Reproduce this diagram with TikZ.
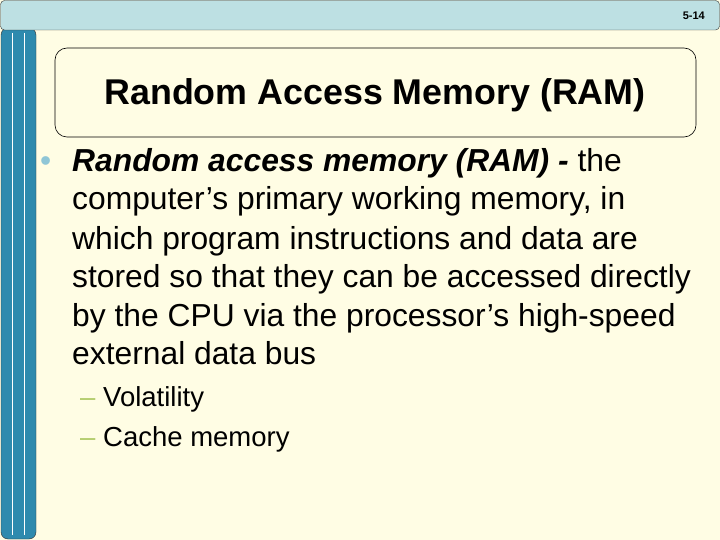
\documentclass[tikz,border=0pt]{standalone}
\usepackage{fontspec}
\setmainfont{Liberation Sans}
\definecolor{cream}{HTML}{FFFDE4}
\definecolor{topbar}{HTML}{BDE0E3}
\definecolor{sidebar}{HTML}{2E8AAE}
\definecolor{dashgreen}{HTML}{B3CC6A}
\definecolor{bulletblue}{HTML}{8FC6D6}
\begin{document}
\begin{tikzpicture}[x=1pt,y=-1pt,
  body/.style={anchor=base west,inner sep=0pt,font=\fontsize{31.8}{36}\selectfont},
  sub/.style={anchor=base west,inner sep=0pt,font=\fontsize{27.5}{32}\selectfont}]
\useasboundingbox (0,0) rectangle (720,540);
\fill[cream] (0,0) rectangle (720,540);
\draw[fill=sidebar,draw=black!80,rounded corners=7pt] (1,28) rectangle (36,539);
\draw[white,line width=0.8pt] (12,33) -- (12,535) (24,33) -- (24,535);
\draw[fill=topbar,draw=black!80,rounded corners=4pt] (0.5,0.5) rectangle (719.5,30);
\node[anchor=east,inner sep=0pt,font=\fontsize{11}{12}\selectfont\bfseries] (pg) at (705,16) {5-14};
\draw[rounded corners=12pt,line width=0.6pt] (55,48) rectangle (696,137);
\node[inner sep=0pt,font=\fontsize{35.8}{40}\selectfont\bfseries] (title) at (375,95) {Random Access Memory (RAM)};
\node[body,text=bulletblue] (b) at (40,172) {•};
\node[body] (l1) at (72,172) {\textbf{\textit{Random access memory (RAM) -}} the};
\node[body] (l2) at (72,210) {computer’s primary working memory, in};
\node[body] (l3) at (72,249) {which program instructions and data are};
\node[body] (l4) at (72,287) {stored so that they can be accessed directly};
\node[body] (l5) at (72,326) {by the CPU via the processor’s high-speed};
\node[body] (l6) at (72,364) {external data bus};
\node[sub,text=dashgreen] (d1) at (80,406) {–};
\node[sub] (s1) at (103,406) {Volatility};
\node[sub,text=dashgreen] (d2) at (80,446) {–};
\node[sub] (s2) at (103,446) {Cache memory};
\end{tikzpicture}
\end{document}
